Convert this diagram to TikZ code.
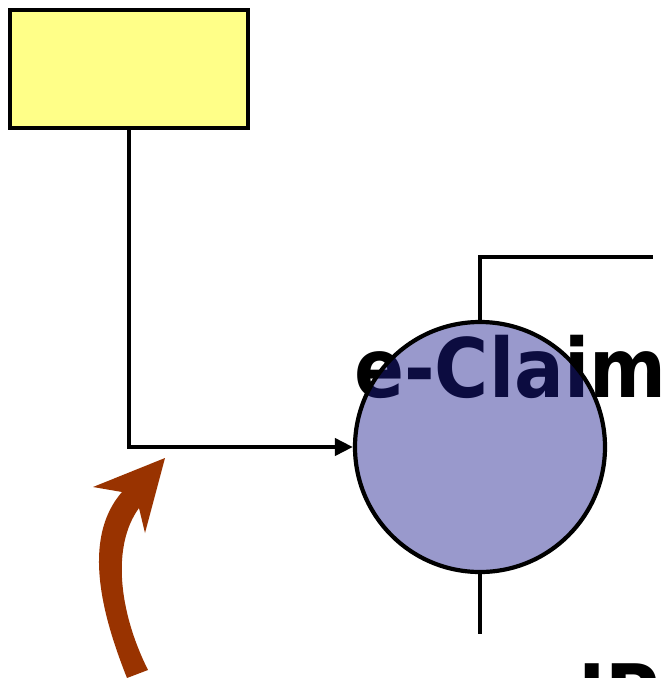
\documentclass[tikz,border=0pt]{standalone}
\usepackage{fontspec}
\setmainfont{DejaVu Sans}
\usetikzlibrary{arrows.meta}
\definecolor{boxyellow}{RGB}{255,255,136}
\definecolor{claimblue}{RGB}{28,28,142}
\definecolor{rust}{RGB}{153,51,0}
\begin{document}
\begin{tikzpicture}[x=1pt,y=-1pt,
  wire/.style={line width=4pt,line join=miter},
  bigtext/.style={font=\fontsize{82}{82}\bfseries\selectfont,inner sep=0pt,xscale=0.9}]
\useasboundingbox (0,0) rectangle (663,678);

% yellow box
\node[draw,line width=4.4pt,fill=boxyellow,minimum width=238pt,minimum height=118pt,inner sep=0pt] (box) at (129,69) {};

% labels, set below the translucent circle
\node[bigtext,anchor=base west] (title) at (354,397) {e-Claim};
\node[bigtext,anchor=north west] (ip) at (578,664) {IP};

% central process circle
\node[circle,draw,line width=4.2pt,fill=claimblue,fill opacity=0.45,draw opacity=1,
      minimum size=250pt,inner sep=0pt] (claim) at (480,447) {};

% free ends of the connectors
\coordinate (outright) at (653,257);
\coordinate (outdown) at (480,634);

\draw[wire,-{Triangle[length=18pt,width=17pt]}] (box.south) |- (claim.west);
\draw[wire] (claim.north) |- (outright);
\draw[wire] (claim.south) -- (outdown);

% curved pointer arrow
\fill[rust] (127,678) .. controls (104,620) and (80,540) .. (122,492)
  -- (93,487) -- (165,458) -- (145,533) -- (139,508)
  .. controls (112,545) and (118,610) .. (148,670) -- cycle;
\end{tikzpicture}
\end{document}
